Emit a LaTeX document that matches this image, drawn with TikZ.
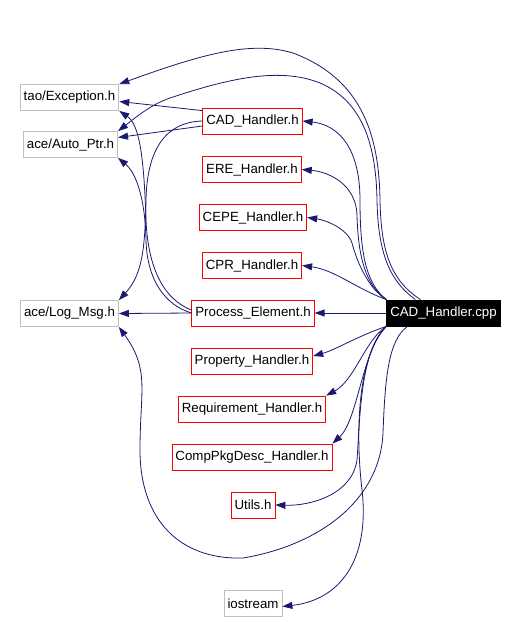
\documentclass[tikz,border=0pt]{standalone}
\usepackage{fontspec}
\setmainfont{Liberation Sans}
\usetikzlibrary{arrows.meta}
\definecolor{edgeblue}{HTML}{191970}
\definecolor{sysgray}{HTML}{BFBFBF}

\begin{document}
\begin{tikzpicture}[x=1pt,y=1pt,
        hdr/.style={draw=red,line width=0.8pt,minimum height=26pt,inner xsep=3.5pt,inner ysep=0pt,font=\fontsize{13.3}{15}\selectfont},
        syshdr/.style={hdr,draw=sysgray},
        dep/.style={edgeblue,line width=0.8pt,-{Triangle[length=10pt,width=7pt]}}]
            \useasboundingbox (0,0) rectangle (520,-622);
            \node [syshdr] (exch) at (69.5,-97.5) {tao/Exception.h};
            \node [syshdr] (autoh) at (70.5,-144.5) {ace/Auto\_Ptr.h};
            \node [syshdr] (logmsg) at (69.5,-313.5) {ace/Log\_Msg.h};
            \node [syshdr] (ios) at (253,-603.5) {iostream};
            \node [hdr] (cadh) at (252.5,-121) {CAD\_Handler.h};
            \node [hdr] (ereh) at (252,-169.5) {ERE\_Handler.h};
            \node [hdr] (cepeh) at (253,-217.5) {CEPE\_Handler.h};
            \node [hdr] (cprh) at (252,-265.5) {CPR\_Handler.h};
            \node [hdr] (peh) at (253,-313) {Process\_Element.h};
            \node [hdr] (proph) at (252,-361) {Property\_Handler.h};
            \node [hdr] (reqh) at (252,-409) {Requirement\_Handler.h};
            \node [hdr] (cpdh) at (252,-457) {CompPkgDesc\_Handler.h};
            \node [hdr] (utilsh) at (253,-505) {Utils.h};
            \node [hdr,fill=black,draw=black,text=white] (cpp) at (443.5,-313) {CAD\_Handler.cpp};
            \draw [dep] ([xshift=-23pt]cpp.north) .. controls (390,-280) and (381,-250) .. (380,-200)
                .. controls (379,-140) and (365,-80) .. (293,-53)
                .. controls (250,-40) and (200,-55) .. (exch.north east);
            \draw [dep] ([xshift=-28pt]cpp.north) .. controls (388,-280) and (378,-250) .. (377,-200)
                .. controls (376,-140) and (360,-100) .. (320,-83)
                .. controls (280,-67) and (230,-78) .. (170,-98)
                .. controls (150,-105) and (135,-118) .. (autoh.north east);
            \draw [dep] (cpp.north west) .. controls (365,-283) and (360,-250) .. (360,-200)
                .. controls (360,-150) and (340,-125) .. (cadh.east);
            \draw [dep] (cpp.north west) .. controls (365,-285) and (358,-255) .. (357,-215)
                .. controls (356,-185) and (330,-172) .. (ereh.east);
            \draw [dep] (cpp.north west) .. controls (368,-288) and (357,-262) .. (352,-243)
                .. controls (347,-228) and (325,-220) .. (cepeh.east);
            \draw [dep] (cpp.north west) .. controls (355,-288) and (335,-270) .. (cprh.east);
            \draw [dep] (cpp.west) -- (peh.east);
            \draw [dep] (cpp.south west) .. controls (360,-335) and (335,-350) .. ([yshift=5pt]proph.east);
            \draw [dep] (cpp.south west) .. controls (365,-340) and (355,-380) .. (reqh.north east);
            \draw [dep] (cpp.south west) .. controls (362,-350) and (358,-420) .. (cpdh.north east);
            \draw [dep] (cpp.south west) .. controls (360,-350) and (360,-420) .. (357,-460)
                .. controls (352,-495) and (310,-506) .. (utilsh.east);
            \draw [dep] (cpp.south west) .. controls (358,-355) and (355,-430) .. (362,-490)
                .. controls (370,-560) and (340,-600) .. ([yshift=-3pt]ios.east);
            \draw [dep] ([xshift=-36pt]cpp.south) .. controls (388,-340) and (385,-380) .. (383,-433)
                .. controls (380,-500) and (320,-545) .. (243,-558)
                .. controls (180,-560) and (140,-520) .. (140,-450)
                .. controls (140,-390) and (150,-370) .. (logmsg.south east);
            \draw [dep] ([yshift=-3pt]cadh.north west) -- ([yshift=-4pt]exch.east);
            \draw [dep] ([yshift=-5pt]cadh.west) -- ([yshift=7pt]autoh.east);
            \draw [dep] (cadh.west) .. controls (165,-122) and (147,-150) .. (146,-200)
                .. controls (145,-250) and (142,-275) .. (logmsg.north east);
            \draw [dep] ([yshift=3pt]peh.west) .. controls (165,-300) and (148,-270) .. (146,-220)
                .. controls (144,-160) and (140,-125) .. (exch.south east);
            \draw [dep] (peh.west) .. controls (165,-305) and (147,-280) .. (146,-240)
                .. controls (145,-195) and (135,-172) .. (autoh.south east);
            \draw [dep] (peh.west) -- (logmsg.east);
        \end{tikzpicture}
\end{document}
